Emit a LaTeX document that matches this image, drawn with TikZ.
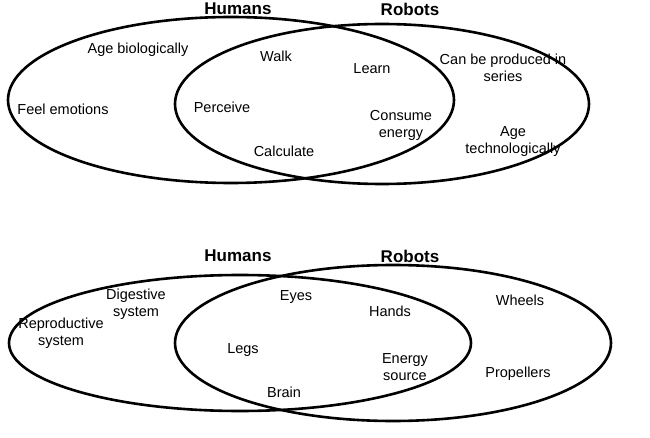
\documentclass[tikz,border=0pt]{standalone}
\usepackage{fontspec}
\setmainfont{Liberation Sans}
\usepackage{tikz}

\tikzset{
    setcircle/.style={draw=black, line width=2.6pt},
    item/.style={align=center, font=\fontsize{14.5}{17}\selectfont, inner sep=0pt},
    setname/.style={font=\fontsize{17}{19}\selectfont\bfseries, inner sep=0pt}
}

\begin{document}
\begin{tikzpicture}[x=1pt,y=-1pt]
    \useasboundingbox (0,0) rectangle (650,438);
    % top diagram
    \draw[setcircle] (231,100) ellipse [x radius=223, y radius=83];
    \draw[setcircle] (382,104) ellipse [x radius=207, y radius=80];
    \node[setname] (humansA) at (238,9) {Humans};
    \node[setname] (robotsA) at (410,9) {Robots};
    \node[item] (ageBio) at (138,50) {Age biologically};
    \node[item] (feel) at (63,109) {Feel emotions};
    \node[item] (walk) at (276,56) {Walk};
    \node[item] (learn) at (372,69) {Learn};
    \node[item] (series) at (503,68) {Can be produced in\\series};
    \node[item] (perceive) at (222,107) {Perceive};
    \node[item] (consume) at (401,125) {Consume\\energy};
    \node[item] (calc) at (284,151) {Calculate};
    \node[item] (ageTech) at (513,142) {Age\\technologically};
    % bottom diagram
    \draw[setcircle] (240,343) ellipse [x radius=231, y radius=68];
    \draw[setcircle] (393,343) ellipse [x radius=218, y radius=78];
    \node[setname] (humansB) at (238,256) {Humans};
    \node[setname] (robotsB) at (410,256) {Robots};
    \node[item] (digest) at (136,304) {Digestive\\system};
    \node[item] (repro) at (61,333) {Reproductive\\system};
    \node[item] (eyes) at (296,297) {Eyes};
    \node[item] (hands) at (390,311) {Hands};
    \node[item] (wheels) at (520,300) {Wheels};
    \node[item] (legs) at (243,350) {Legs};
    \node[item] (energy) at (405,367) {Energy\\source};
    \node[item] (props) at (518,374) {Propellers};
    \node[item] (brain) at (284,392) {Brain};
\end{tikzpicture}
\end{document}
